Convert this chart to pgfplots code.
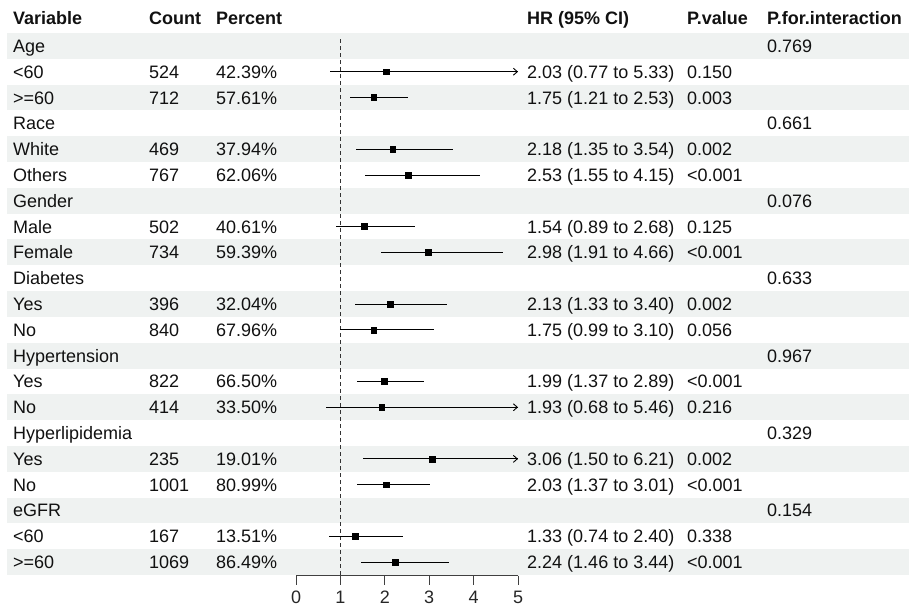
\documentclass[border=0pt]{standalone}
\usepackage{pgfplots}
\pgfplotsset{compat=1.18}
\usepackage{pgfplotstable}
\usetikzlibrary{arrows.meta}
\usepackage{fontspec}
\setmainfont{Liberation Sans}
\definecolor{band}{HTML}{EFF2F1}
\definecolor{txt}{HTML}{111111}

% row index (top to bottom), HR, lower, upper
\pgfplotstableread{
r  hr   lo   hi
2  2.03 0.77 5.33
3  1.75 1.21 2.53
5  2.18 1.35 3.54
6  2.53 1.55 4.15
8  1.54 0.89 2.68
9  2.98 1.91 4.66
11 2.13 1.33 3.40
12 1.75 0.99 3.10
14 1.99 1.37 2.89
15 1.93 0.68 5.46
17 3.06 1.50 6.21
18 2.03 1.37 3.01
20 1.33 0.74 2.40
21 2.24 1.46 3.44
}\citab

\newcommand\rowtxt[7]{%
  \node[anchor=base west,inner sep=0pt,yshift=-6.5pt] at (axis cs:-6.374,#1) {#2};
  \node[anchor=base west,inner sep=0pt,yshift=-6.5pt] at (axis cs:-3.311,#1) {#3};
  \node[anchor=base west,inner sep=0pt,yshift=-6.5pt] at (axis cs:-1.802,#1) {#4};
  \node[anchor=base west,inner sep=0pt,yshift=-6.5pt] at (axis cs:5.203,#1) {#5};
  \node[anchor=base west,inner sep=0pt,yshift=-6.5pt] at (axis cs:8.806,#1) {#6};
  \node[anchor=base west,inner sep=0pt,yshift=-6.5pt] at (axis cs:10.608,#1) {#7};
}

\begin{document}
\begin{tikzpicture}[every node/.style={font=\fontsize{18}{21}\selectfont, text=txt}]
\useasboundingbox (0,0) rectangle (909pt,607pt);
\begin{axis}[at={(0,0)}, anchor=south west, scale only axis,
  width=909pt, height=607pt,
  xmin=-6.6667, xmax=13.8063, ymin=-0.7786, ymax=22.7394,
  y dir=reverse, hide axis, clip=false]

% background bands
\fill[band] (axis cs:-6.509,0.5) rectangle (axis cs:13.8063,1.5);
\fill[band] (axis cs:-6.509,2.5) rectangle (axis cs:13.8063,3.5);
\fill[band] (axis cs:-6.509,4.5) rectangle (axis cs:13.8063,5.5);
\fill[band] (axis cs:-6.509,6.5) rectangle (axis cs:13.8063,7.5);
\fill[band] (axis cs:-6.509,8.5) rectangle (axis cs:13.8063,9.5);
\fill[band] (axis cs:-6.509,10.5) rectangle (axis cs:13.8063,11.5);
\fill[band] (axis cs:-6.509,12.5) rectangle (axis cs:13.8063,13.5);
\fill[band] (axis cs:-6.509,14.5) rectangle (axis cs:13.8063,15.5);
\fill[band] (axis cs:-6.509,16.5) rectangle (axis cs:13.8063,17.5);
\fill[band] (axis cs:-6.509,18.5) rectangle (axis cs:13.8063,19.5);
\fill[band] (axis cs:-6.509,20.5) rectangle (axis cs:13.8063,21.5);

% header
\node[anchor=base west,inner sep=0pt,yshift=-4.4pt] at (axis cs:-6.374,0) {\bfseries Variable};
\node[anchor=base west,inner sep=0pt,yshift=-4.4pt] at (axis cs:-3.311,0) {\bfseries Count};
\node[anchor=base west,inner sep=0pt,yshift=-4.4pt] at (axis cs:-1.802,0) {\bfseries Percent};
\node[anchor=base west,inner sep=0pt,yshift=-4.4pt] at (axis cs:5.203,0) {\bfseries HR (95\% CI)};
\node[anchor=base west,inner sep=0pt,yshift=-4.4pt] at (axis cs:8.806,0) {\bfseries P.value};
\node[anchor=base west,inner sep=0pt,yshift=-4.4pt] at (axis cs:10.608,0) {\bfseries P.for.interaction};

\rowtxt{1}{Age}{}{}{}{}{0.769}
\rowtxt{2}{<60}{524}{42.39\%}{2.03 (0.77 to 5.33)}{0.150}{}
\rowtxt{3}{>=60}{712}{57.61\%}{1.75 (1.21 to 2.53)}{0.003}{}
\rowtxt{4}{Race}{}{}{}{}{0.661}
\rowtxt{5}{White}{469}{37.94\%}{2.18 (1.35 to 3.54)}{0.002}{}
\rowtxt{6}{Others}{767}{62.06\%}{2.53 (1.55 to 4.15)}{<0.001}{}
\rowtxt{7}{Gender}{}{}{}{}{0.076}
\rowtxt{8}{Male}{502}{40.61\%}{1.54 (0.89 to 2.68)}{0.125}{}
\rowtxt{9}{Female}{734}{59.39\%}{2.98 (1.91 to 4.66)}{<0.001}{}
\rowtxt{10}{Diabetes}{}{}{}{}{0.633}
\rowtxt{11}{Yes}{396}{32.04\%}{2.13 (1.33 to 3.40)}{0.002}{}
\rowtxt{12}{No}{840}{67.96\%}{1.75 (0.99 to 3.10)}{0.056}{}
\rowtxt{13}{Hypertension}{}{}{}{}{0.967}
\rowtxt{14}{Yes}{822}{66.50\%}{1.99 (1.37 to 2.89)}{<0.001}{}
\rowtxt{15}{No}{414}{33.50\%}{1.93 (0.68 to 5.46)}{0.216}{}
\rowtxt{16}{Hyperlipidemia}{}{}{}{}{0.329}
\rowtxt{17}{Yes}{235}{19.01\%}{3.06 (1.50 to 6.21)}{0.002}{}
\rowtxt{18}{No}{1001}{80.99\%}{2.03 (1.37 to 3.01)}{<0.001}{}
\rowtxt{19}{eGFR}{}{}{}{}{0.154}
\rowtxt{20}{<60}{167}{13.51\%}{1.33 (0.74 to 2.40)}{0.338}{}
\rowtxt{21}{>=60}{1069}{86.49\%}{2.24 (1.46 to 3.44)}{<0.001}{}

% reference line
\draw[black!80, line width=0.8pt, dash pattern=on 4pt off 3pt] (axis cs:1,0.75) -- (axis cs:1,21.527);

% x axis
\draw[black!75, line width=0.9pt] (axis cs:0,21.527) -- (axis cs:5,21.527);
\pgfplotsinvokeforeach{0,1,2,3,4,5}{
  \draw[black!75, line width=0.9pt] (axis cs:#1,21.527) -- (axis cs:#1,21.887);
  \node[anchor=base, inner sep=0pt, yshift=-27.6pt, text=black!85] at (axis cs:#1,21.527) {#1};
}

% confidence intervals and point estimates
\addplot[only marks, mark=square*, mark size=2.9pt, black,
  error bars/.cd, x dir=both, x explicit, error mark=none,
  error bar style={line width=0.9pt, black}]
  table[x=hr, y=r,
    x error plus expr={min(\thisrow{hi},5)-\thisrow{hr}},
    x error minus expr={\thisrow{hr}-\thisrow{lo}}] {\citab};

% arrows for intervals beyond the axis
\addplot[black, line width=0.9pt, -{Straight Barb[length=4pt,width=7pt]}] coordinates {(4.7,2) (5,2)};
\addplot[black, line width=0.9pt, -{Straight Barb[length=4pt,width=7pt]}] coordinates {(4.7,15) (5,15)};
\addplot[black, line width=0.9pt, -{Straight Barb[length=4pt,width=7pt]}] coordinates {(4.7,17) (5,17)};

\end{axis}
\end{tikzpicture}
\end{document}
